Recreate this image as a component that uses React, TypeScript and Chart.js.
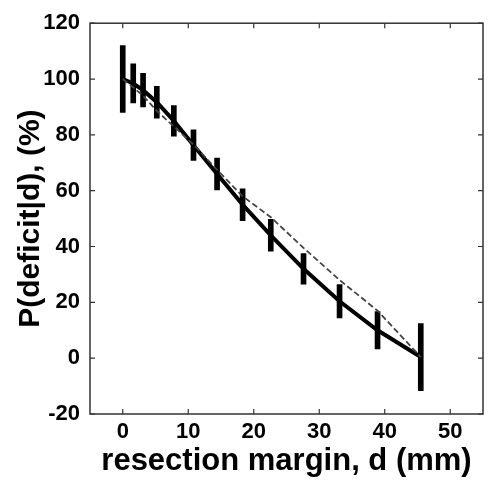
import React, { useEffect, useRef } from "react";
import { Chart, registerables } from "chart.js";

Chart.register(...registerables);

const margins = [0, 1.6, 3.1, 5.2, 7.8, 10.8, 14.4, 18.3, 22.6, 27.6, 33.1, 38.9, 45.5];
const probability = [100, 98.4, 96, 91.7, 85, 76.3, 66, 55, 44, 32, 20.4, 10, 0.4];
const errors = [12, 7, 6, 5.7, 5.5, 5.5, 5.7, 5.7, 5.7, 5.5, 6, 6.7, 12];
const modelFit = [100, 97, 94, 88.6, 83, 76.5, 67.5, 58, 50.5, 39.5, 28, 17, 0.4];
const xTicks = [0, 10, 20, 30, 40, 50];
const yTicks = [-20, 0, 20, 40, 60, 80, 100, 120];

const FONT = "'Liberation Sans', Arial, Helvetica, sans-serif";

const framePlugin = {
  id: "frame",
  afterDraw(chart: any) {
    const { ctx, chartArea: a, scales } = chart;
    ctx.save();
    ctx.strokeStyle = "#333";
    ctx.lineWidth = 1.5;
    ctx.strokeRect(a.left, a.top, a.right - a.left, a.bottom - a.top);
    ctx.lineWidth = 1.2;
    const tl = 5;
    ctx.beginPath();
    for (const v of xTicks) {
      const x = scales.x.getPixelForValue(v);
      ctx.moveTo(x, a.bottom);
      ctx.lineTo(x, a.bottom - tl);
      ctx.moveTo(x, a.top);
      ctx.lineTo(x, a.top + tl);
    }
    for (const v of yTicks) {
      const y = scales.y.getPixelForValue(v);
      ctx.moveTo(a.left, y);
      ctx.lineTo(a.left + tl, y);
      ctx.moveTo(a.right, y);
      ctx.lineTo(a.right - tl, y);
    }
    ctx.stroke();
    ctx.restore();
  },
};

export default function App() {
  const ref = useRef<HTMLCanvasElement>(null);
  useEffect(() => {
    if (!ref.current) return;
    const chart = new Chart(ref.current, {
      type: "line",
      data: {
        datasets: [
          {
            type: "bar",
            data: margins.map((m, i) => ({ x: m, y: [probability[i] - errors[i], probability[i] + errors[i]] })) as any,
            backgroundColor: "#000",
            barThickness: 5,
            order: 1,
          } as any,
          {
            type: "line",
            data: margins.map((m, i) => ({ x: m, y: probability[i] })),
            borderColor: "#000",
            borderWidth: 4,
            pointRadius: 0,
            tension: 0,
            order: 2,
          },
          {
            type: "line",
            data: margins.map((m, i) => ({ x: m, y: modelFit[i] })),
            borderColor: "#444",
            borderWidth: 1.8,
            borderDash: [6, 3],
            pointRadius: 0,
            tension: 0,
            order: 0,
          },
        ],
      },
      options: {
        animation: false,
        responsive: true,
        maintainAspectRatio: false,
        layout: { padding: { top: 19, right: 9, left: 0, bottom: 0 } },
        plugins: { legend: { display: false }, tooltip: { enabled: false } },
        scales: {
          x: {
            type: "linear",
            min: -5,
            max: 55,
            offset: false,
            grid: { display: false, drawTicks: false },
            border: { display: false },
            afterBuildTicks: (s: any) => {
              s.ticks = xTicks.map((v) => ({ value: v }));
            },
            afterFit: (s: any) => {
              s.height = 68;
            },
            ticks: {
              padding: 5,
              color: "#000",
              font: { family: FONT, size: 22, weight: "bold" },
            },
            title: {
              display: true,
              text: "resection margin, d (mm)",
              color: "#000",
              font: { family: FONT, size: 31, weight: "bold" },
              padding: { top: 0, bottom: 2 },
            },
          },
          y: {
            type: "linear",
            min: -20,
            max: 120,
            grid: { display: false, drawTicks: false },
            border: { display: false },
            afterBuildTicks: (s: any) => {
              s.ticks = yTicks.map((v) => ({ value: v }));
            },
            afterFit: (s: any) => {
              s.width = 90;
            },
            ticks: {
              padding: 10,
              color: "#000",
              font: { family: FONT, size: 22, weight: "bold" },
            },
            title: {
              display: true,
              text: "P(deficit|d), (%)",
              color: "#000",
              font: { family: FONT, size: 30, weight: "bold" },
              padding: { top: 13, bottom: 0 },
            },
          },
        },
      } as any,
      plugins: [framePlugin],
    });
    return () => chart.destroy();
  }, []);
  return (
    <div style={{ position: "absolute", left: 0, top: 0, width: 492, height: 482, background: "#fff" }}>
      <canvas ref={ref} />
    </div>
  );
}
